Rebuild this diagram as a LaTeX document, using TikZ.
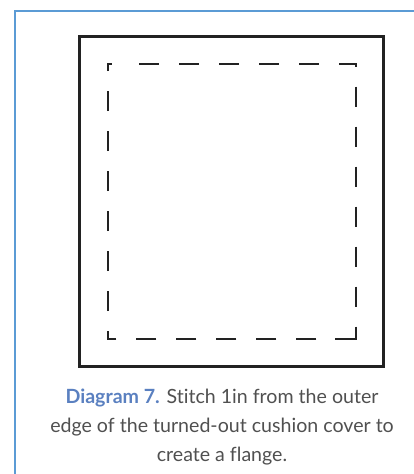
\documentclass[tikz,border=0pt]{standalone}
\usepackage{fontspec}
\setmainfont[Ligatures={NoCommon,NoContextual}]{Lato}
\definecolor{framblue}{HTML}{5B9BD5}
\definecolor{capblue}{HTML}{5A80C0}
\definecolor{capgray}{HTML}{505050}
\definecolor{linegray}{HTML}{222222}
\tikzset{
  frameline/.style={draw=framblue, line width=2pt},
  outerbox/.style={draw=linegray, line width=2.6pt},
  stitchline/.style={draw=linegray, line width=2pt, miter limit=10,
    dash pattern={on 20pt off 20pt on 20pt off 20pt on 20pt off 20pt on 20pt off 20pt on 20pt off 20pt
      on 19pt off 20pt on 20pt off 20pt on 20pt off 20pt on 20pt off 20pt on 20pt off 20pt on 20pt off 20pt on 20pt off 20pt
      on 33pt off 19pt on 20pt off 20pt on 20pt off 20pt on 20pt off 20pt on 20pt off 20pt on 20pt off 20pt
      on 17pt off 20pt on 20pt off 20pt on 20pt off 20pt on 20pt off 20pt on 20pt off 20pt on 20pt off 20pt on 20pt off 20pt
      on 11pt off 29pt}},
  caption/.style={align=center, font=\fontsize{19.6}{29}\selectfont, text=capgray, inner sep=0pt}
}
\begin{document}
\begin{tikzpicture}[x=1pt,y=-1pt]
\useasboundingbox (0,0) rectangle (414,474);
% blue frame (top and left)
\coordinate (fb) at (15,474);
\coordinate (fc) at (15,11);
\coordinate (fr) at (414,11);
\draw[frameline] (fb) -- (fc) -- (fr);
% outer cover
\draw[outerbox] (79.7,36.3) rectangle (383.5,366.7);
% stitch line
\draw[stitchline] (139,64.3) -- (355.7,64.3) -- (355.7,339.3) -- (107.7,339.3) -- (107.7,64.3) -- (139,64.3);
% caption
\node[caption] (cap) at (222,427) {{\bfseries\color{capblue}Diagram 7.} Stitch 1in from the outer\\edge of the turned-out cushion cover to\\create a flange.};
\end{tikzpicture}
\end{document}
